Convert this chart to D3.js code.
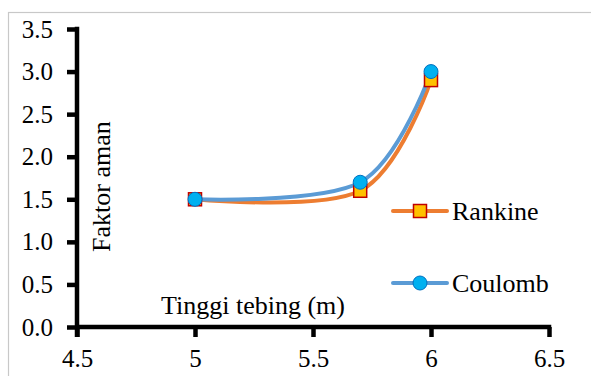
<!DOCTYPE html>
<html>
<head>
<meta charset="utf-8">
<script src="https://cdn.jsdelivr.net/npm/d3@7"></script>
<style>
  html, body { margin: 0; padding: 0; background: #fff; }
  svg text { font-family: "Liberation Serif", "Times New Roman", serif; fill: #000; }
</style>
</head>
<body>
<svg id="chart" width="591" height="376" font-family="Liberation Serif"></svg>
<script>
// Safety factor vs. slope height
const heights = [5, 5.7, 6];
const rankine = [1.5, 1.6, 2.9];
const coulomb = [1.5, 1.7, 3.0];
const seriesNames = ["Rankine", "Coulomb"];
const xTicks = [4.5, 5, 5.5, 6, 6.5];
const yTicks = [0, 0.5, 1, 1.5, 2, 2.5, 3, 3.5];
const xTitle = "Tinggi tebing (m)";
const yTitle = "Faktor aman";

const SERIF = "Liberation Serif";
const svg = d3.select("#chart");

// chart frame
svg.append("rect")
  .attr("x", 8.5).attr("y", 12.5)
  .attr("width", 620).attr("height", 400)
  .attr("fill", "#fff").attr("stroke", "#c8c8c8").attr("stroke-width", 1.2);

const x = d3.scaleLinear().domain([4.5, 6.5]).range([77, 549]);
const y = d3.scaleLinear().domain([0, 3.5]).range([327, 29]);

// axes
const xAxis = d3.axisBottom(x).tickValues(xTicks).tickSize(10).tickPadding(13)
  .tickFormat(d => String(d));
const yAxis = d3.axisLeft(y).tickValues(yTicks).tickSize(10).tickPadding(13)
  .tickFormat(d3.format(".1f"));

const gx = svg.append("g").attr("transform", `translate(0,${y(0)})`).call(xAxis);
const gy = svg.append("g").attr("transform", `translate(${x(4.5)},0)`).call(yAxis);

[gx, gy].forEach(g => {
  g.attr("font-family", SERIF).attr("font-size", 25);
  g.select(".domain").remove();
  g.selectAll(".tick line")
    .style("stroke", "#000")
    .style("stroke-width", "4.5px");
  g.selectAll(".tick text")
    .attr("fill", "#000")
    .attr("font-family", SERIF)
    .style("font-size", "25px");
});
gx.selectAll(".tick text").attr("dy", "0.71em").attr("y", 22);
gy.selectAll(".tick text").attr("x", -24);

// axis spines, ends flush with the outer ticks
svg.append("line")
  .attr("x1", x(4.5) - 2).attr("x2", x(6.5) + 2.25)
  .attr("y1", y(0)).attr("y2", y(0))
  .style("stroke", "#000").style("stroke-width", "4.5px");
svg.append("line")
  .attr("x1", x(4.5)).attr("x2", x(4.5))
  .attr("y1", y(3.5) - 2.25).attr("y2", y(0) + 10)
  .style("stroke", "#000").style("stroke-width", "4.5px");

// axis titles
svg.append("text")
  .attr("x", 161).attr("y", 314)
  .attr("font-family", SERIF).attr("font-size", 26)
  .text(xTitle);
svg.append("text")
  .attr("transform", "translate(110,252) rotate(-90)")
  .attr("font-family", SERIF).attr("font-size", 26)
  .text(yTitle);

// smoothed lines
const line = d3.line()
  .x(d => x(d[0])).y(d => y(d[1]))
  .curve(d3.curveCardinal.tension(0));

const styles = [
  { name: seriesNames[0], values: rankine, stroke: "#ED7D31", fill: "#FFC000", mstroke: "#C00000", shape: "square" },
  { name: seriesNames[1], values: coulomb, stroke: "#5B9BD5", fill: "#00B0F0", mstroke: "#0070C0", shape: "circle" }
];

styles.forEach(s => {
  const pts = heights.map((h, i) => [h, s.values[i]]);
  svg.append("path")
    .datum(pts)
    .attr("d", line)
    .attr("fill", "none")
    .style("stroke", s.stroke)
    .style("stroke-width", "4px")
    .attr("stroke-linecap", "round");
});

function marker(g, s, cx, cy) {
  if (s.shape === "square") {
    g.append("rect")
      .attr("x", cx - 6.5).attr("y", cy - 6.5)
      .attr("width", 13).attr("height", 13)
      .attr("fill", s.fill).attr("stroke", s.mstroke).attr("stroke-width", 1.5);
  } else {
    g.append("circle")
      .attr("cx", cx).attr("cy", cy).attr("r", 7)
      .attr("fill", s.fill).attr("stroke", s.mstroke).attr("stroke-width", 1);
  }
}

styles.forEach(s => {
  const g = svg.append("g");
  heights.forEach((h, i) => marker(g, s, x(h), y(s.values[i])));
});

// legend
const legendY = [211, 283];
styles.forEach((s, i) => {
  const g = svg.append("g");
  g.append("line")
    .attr("x1", 393).attr("x2", 447)
    .attr("y1", legendY[i]).attr("y2", legendY[i])
    .style("stroke", s.stroke).style("stroke-width", "4px").attr("stroke-linecap", "round");
  marker(g, s, 420, legendY[i]);
  g.append("text")
    .attr("x", 452).attr("y", legendY[i] + 9)
    .attr("font-family", SERIF).attr("font-size", 26)
    .text(s.name);
});
</script>
</body>
</html>
